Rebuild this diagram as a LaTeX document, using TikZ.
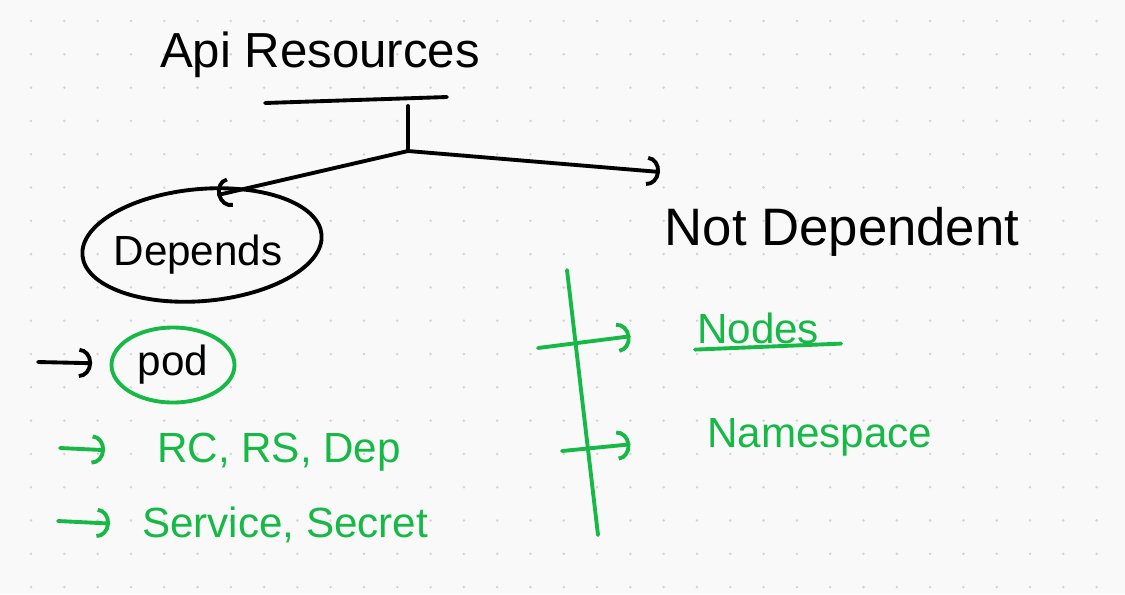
\documentclass[tikz,border=0pt]{standalone}
\usepackage{fontspec}
\setmainfont{Liberation Sans}
\usetikzlibrary{positioning, shapes, arrows.meta, calc}

\definecolor{penGreen}{RGB}{22,184,70}
\definecolor{paper}{RGB}{249,249,249}
\definecolor{dotGray}{RGB}{212,212,212}

\begin{document}
\begin{tikzpicture}[
ink/.style={line width=2.2pt, line cap=round, line join=round},
hook/.style={ink, -{Arc Barb[length=2.6mm, width=6mm]}},
label/.style={font=\fontsize{24}{28}\selectfont, inner sep=1pt},
bubble/.style={ellipse, draw, ink, inner sep=0pt},
]

% Paper
\useasboundingbox (0,0) rectangle (22.5,-11.88);
\fill [paper] (0,0) rectangle (22.5,-11.88);
\foreach \i in {0,...,32}
  \foreach \j in {0,...,17}
    \fill [dotGray] (0.62+0.666*\i, -0.42-0.666*\j) circle (0.028);

%Nodes
\node [label, font=\fontsize{28}{32}\selectfont] (title) at (6.4,-1.1) {Api Resources};
\coordinate (ulleft) at (5.3,-2.06);
\coordinate (ulright) at (8.94,-1.94);
\coordinate (stemtop) at (8.16,-2.12);
\coordinate (fork) at (8.16,-3.02);

\node [bubble, minimum width=4.8cm, minimum height=2.24cm, rotate=5] (dep) at (4.04,-4.9) {};
\node [label] (deptext) at (3.96,-5.1) {Depends};
\node [label, font=\fontsize{30}{34}\selectfont] (notdep) at (16.84,-4.64) {Not Dependent};
\coordinate (notin) at (13.2,-3.44);

\node [bubble, draw=penGreen, label, minimum width=2.46cm, minimum height=1.5cm] (pod) at (3.46,-7.3) {pod};
\coordinate (podfrom) at (0.76,-7.24);
\node [label, text=penGreen, anchor=west] (ctl) at (3.1,-9.05) {RC, RS, Dep};
\coordinate (ctlfrom) at (1.2,-8.96);
\node [label, text=penGreen, anchor=west] (svc) at (2.8,-10.5) {Service, Secret};
\coordinate (svcfrom) at (1.16,-10.42);

\coordinate (railtop) at (11.34,-5.4);
\coordinate (railbot) at (11.96,-10.7);
\node [label, text=penGreen, anchor=west] (nodes) at (13.9,-6.56) {Nodes};
\coordinate (nodesfrom) at (10.76,-6.96);
\node [label, text=penGreen, anchor=west] (ns) at (14.1,-8.74) {Namespace};
\coordinate (nsfrom) at (11.24,-9.02);

% Paths
\draw [ink] (ulleft) -- (ulright);
\draw [ink] (stemtop) -- (fork);
\draw [hook] (fork) -- ($(dep.center)!0.85!(dep.68)$);
\draw [hook] (fork) -- (notin);

\draw [hook, shorten >=3.5mm] (podfrom) -- (pod);
\draw [hook, penGreen, shorten >=1cm] (ctlfrom) -- (ctl.west);
\draw [hook, penGreen, shorten >=6mm] (svcfrom) -- (svc.west);

\draw [ink, penGreen] (railtop) -- (railbot);
\draw [hook, penGreen, shorten >=1.3cm] (nodesfrom) -- (nodes.west);
\draw [hook, penGreen, shorten >=1.5cm] (nsfrom) -- (ns.west);
\draw [ink, penGreen] ($(nodes.south west)+(0,-0.08)$) -- ($(nodes.south east)+(0.4,0.04)$);
\end{tikzpicture}
\end{document}
